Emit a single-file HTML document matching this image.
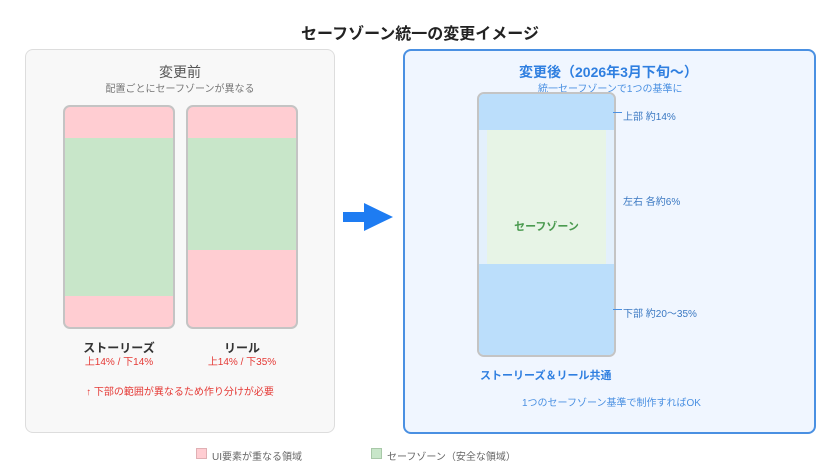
<!DOCTYPE html>
<html><head><meta charset="utf-8"><style>
body{margin:0;width:840px;height:476px;background:#fff;position:relative;font-family:"Liberation Sans","Noto Sans CJK JP",sans-serif;overflow:hidden}
.a{position:absolute;white-space:nowrap}
.c{text-align:center}
</style></head><body>
<div class="a c" style="left:0;width:840px;top:20px;font-size:16px;font-weight:bold;color:#222">セーフゾーン統一の変更イメージ</div>

<div class="a" style="left:25px;top:49px;width:310px;height:384px;background:#f8f8f8;border:1px solid #ddd;border-radius:8px;box-sizing:border-box"></div>
<div class="a c" style="left:25px;width:310px;top:62px;font-size:14px;color:#555">変更前</div>
<div class="a c" style="left:25px;width:310px;top:80px;font-size:10px;color:#777">配置ごとにセーフゾーンが異なる</div>

<div class="a" style="left:63px;top:105px;width:112px;height:224px;border:2px solid #c4c4c4;border-radius:7px;box-sizing:border-box;overflow:hidden;background:#ffcdd2">
<div style="position:absolute;left:0;right:0;top:31px;height:158px;background:#c8e6c9"></div></div>
<div class="a" style="left:186px;top:105px;width:112px;height:224px;border:2px solid #c4c4c4;border-radius:7px;box-sizing:border-box;overflow:hidden;background:#ffcdd2">
<div style="position:absolute;left:0;right:0;top:31px;height:112px;background:#c8e6c9"></div></div>

<div class="a c" style="left:63px;width:112px;top:339px;font-size:12px;font-weight:bold;color:#333">ストーリーズ</div>
<div class="a c" style="left:63px;width:112px;top:353px;font-size:10px;color:#e53935">上14% / 下14%</div>
<div class="a c" style="left:186px;width:112px;top:339px;font-size:12px;font-weight:bold;color:#333">リール</div>
<div class="a c" style="left:186px;width:112px;top:353px;font-size:10px;color:#e53935">上14% / 下35%</div>
<div class="a c" style="left:25px;width:310px;top:383px;font-size:10px;color:#e53935">↑ 下部の範囲が異なるため作り分けが必要</div>

<svg class="a" style="left:340px;top:200px" width="56" height="34"><polygon points="3,12 24,12 24,3 53,17 24,31 24,22 3,22" fill="#1e7cf2"/></svg>

<div class="a" style="left:403px;top:49px;width:413px;height:385px;background:#f0f6ff;border:2px solid #4a90e2;border-radius:8px;box-sizing:border-box"></div>
<div class="a" style="left:519px;top:62px;font-size:14px;font-weight:bold;color:#2f7fe0">変更後（2026年3月下旬〜）</div>
<div class="a" style="left:538px;top:80px;font-size:10px;color:#4a90e2">統一セーフゾーンで1つの基準に</div>

<div class="a" style="left:477px;top:92px;width:139px;height:265px;border:2px solid #c4c4c4;border-radius:7px;box-sizing:border-box;overflow:hidden;background:#e3f0fc">
<div style="position:absolute;left:0;right:0;top:0;height:36px;background:#bbdefb"></div>
<div style="position:absolute;left:8px;right:8px;top:36px;height:134px;background:#e7f4e6"></div>
<div style="position:absolute;left:0;right:0;top:170px;bottom:0;background:#bbdefb"></div></div>
<div class="a c" style="left:477px;width:139px;top:218px;font-size:11px;font-weight:bold;color:#4a9a4f">セーフゾーン</div>
<div class="a" style="left:613px;top:112px;width:9px;height:1px;background:#4a90e2"></div>
<div class="a" style="left:613px;top:309px;width:9px;height:1px;background:#4a90e2"></div>
<div class="a" style="left:623px;top:108px;font-size:10px;color:#3a78c2">上部 約14%</div>
<div class="a" style="left:623px;top:193px;font-size:10px;color:#3a78c2">左右 各約6%</div>
<div class="a" style="left:623px;top:305px;font-size:10px;color:#3a78c2">下部 約20〜35%</div>
<div class="a" style="left:480px;top:367px;font-size:11px;font-weight:bold;color:#2f7fe0">ストーリーズ＆リール共通</div>
<div class="a" style="left:522px;top:394px;font-size:10px;color:#4a90e2">1つのセーフゾーン基準で制作すればOK</div>

<div class="a" style="left:196px;top:448px;width:11px;height:11px;background:#ffcdd2;border:1px solid #e0b0b4;box-sizing:border-box"></div>
<div class="a" style="left:212px;top:448px;font-size:10px;color:#666">UI要素が重なる領域</div>
<div class="a" style="left:371px;top:448px;width:11px;height:11px;background:#c8e6c9;border:1px solid #a8c8a8;box-sizing:border-box"></div>
<div class="a" style="left:387px;top:448px;font-size:10px;color:#666">セーフゾーン（安全な領域）</div>
</body></html>
